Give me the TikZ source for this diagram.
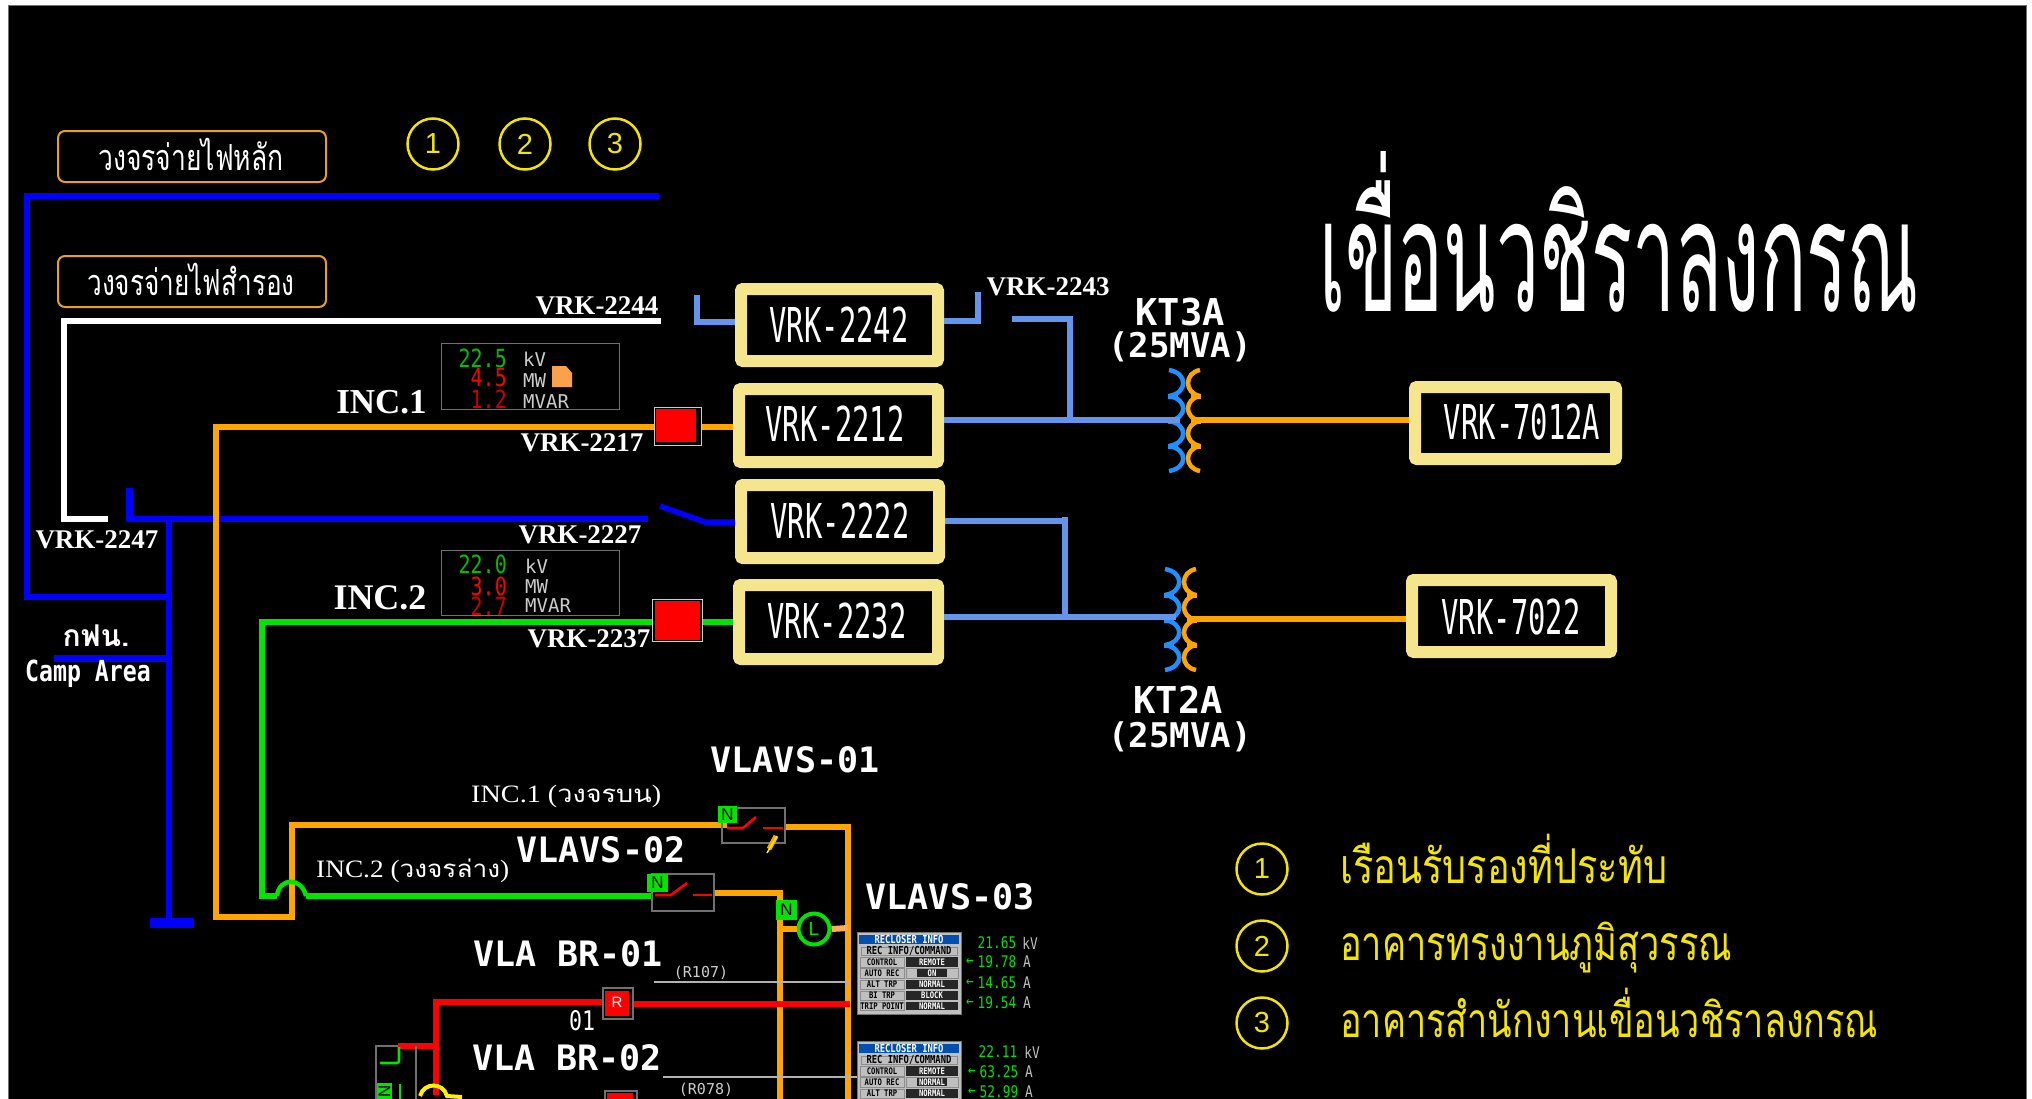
\documentclass[tikz,border=0pt]{standalone}
\usepackage{fontspec}
\usepackage{graphicx}
\usetikzlibrary{calc}
\newfontfamily\thaifont[Script=Thai]{Loma}
\newfontfamily\scadaN[FakeStretch=0.6]{DejaVu Sans Mono}
\newfontfamily\scadaM[FakeStretch=0.8]{DejaVu Sans Mono}
\newfontfamily\scadaW{DejaVu Sans Mono}
\newfontfamily\lsans{Liberation Sans}
\newfontfamily\lserif{Liberation Serif}
\newcommand\fsz[1]{\fontsize{#1}{#1}\selectfont}
\newcommand\fitw[2]{\resizebox{#1}{\height}{#2}}
\definecolor{orangeL}{HTML}{FFA500}
\definecolor{blueM}{HTML}{0000FF}
\definecolor{blueS}{HTML}{6495ED}
\definecolor{greenL}{HTML}{00E400}
\definecolor{coilB}{HTML}{1E90FF}
\definecolor{khaki}{HTML}{F5E58C}
\definecolor{frameG}{HTML}{707070}
\definecolor{lblO}{HTML}{E8A020}
\definecolor{yel}{HTML}{F2E600}
\tikzset{
 wire/.style={line width=#1,line cap=butt,line join=miter},
 wire/.default=6.5pt,
 mainblue/.style={wire,draw=blueM},
 whitebus/.style={wire,draw=white},
 orangebus/.style={wire,draw=orangeL},
 greenbus/.style={wire,draw=greenL},
 redbus/.style={wire,draw=red},
 skybus/.style={wire=6pt,draw=blueS},
 txt/.style={inner sep=0pt,text=white},
 vrkbox/.style={draw=khaki,line width=12pt,fill=black,inner sep=0pt,rounded corners=2pt},
 meterbox/.style={draw=frameG,line width=1.5pt,inner sep=0pt},
 legendbox/.style={draw=lblO,line width=2pt,rounded corners=7pt,inner sep=0pt,minimum width=268pt,minimum height=51pt},
 numcircle/.style={circle,draw=yel,line width=2.5pt,minimum size=51pt,inner sep=0pt,text=yel,font=\lsans\fsz{29}},
 swframe/.style={draw=frameG,line width=1.6pt,inner sep=0pt},
 nbox/.style={fill=greenL,text=black,inner sep=0pt,font=\lsans\fsz{17}},
 rbox/.style={draw=frameG,line width=1.6pt,fill=black,inner sep=0pt},
 contact/.style={draw=red,line width=2.6pt},
 xfmr/.pic={
  \foreach \ya/\yb in {-50/-24,-24/1,1/26,26/51}{
   \draw[draw=coilB,line width=4.5pt] (-17,\ya) .. controls (2,\ya+3) and (2,\yb-3) .. (-17,\yb);
   \draw[draw=orangeL,line width=4.5pt] (14,\ya) .. controls (-2,\ya+3) and (-2,\yb-3) .. (14,\yb);
  }
  \foreach \yc in {-24,1,26}{
   \draw[draw=coilB,line width=5pt] (-18,\yc) -- (-8,\yc);
   \draw[draw=orangeL,line width=5pt] (5,\yc) -- (15,\yc);
  }
  \coordinate (-in) at (-6,0);
  \coordinate (-out) at (6,0);
 },
}
\newcommand\infopanel[6]{%
 \begin{scope}[shift={(#1)}]
  \fill[black!25] (0,0) rectangle (104,82);
  \draw[black!55,line width=1pt] (0,0) rectangle (104,82);
  \fill[blue!55!cyan!70!black] (2,3) rectangle (102,12);
  \node[txt,font=\scadaM\bfseries\fsz{11}] at (52,7.5) {RECLOSER INFO};
  \draw[black!45,line width=.8pt] (4,15) rectangle (100,23);
  \node[txt,text=black,font=\scadaM\bfseries\fsz{11}] at (52,19) {REC INFO/COMMAND};
  \foreach \ya/\yb/\lb/\vl in {25/35/CONTROL/#2,48/57/ALT TRP/#4,59/68/BI TRP/#5,70/78/TRIP POINT/#6}{
   \draw[black!45,line width=.8pt] (3,\ya) rectangle (47,\yb);
   \node[txt,text=black,font=\scadaM\bfseries\fsz{9}] at (25,\ya/2+\yb/2) {\lb};
   \fill[black!85] (49,\ya) rectangle (101,\yb);
   \node[txt,font=\scadaM\bfseries\fsz{9}] at (75,\ya/2+\yb/2) {\vl};
  }
  \draw[black!45,line width=.8pt] (3,36) rectangle (47,46);
  \node[txt,text=black,font=\scadaM\bfseries\fsz{9}] at (25,41) {AUTO REC};
  \draw[black!45,line width=.8pt] (49,36) rectangle (101,46);
  \fill[black!85] (60,37) rectangle (90,45);
  \node[txt,font=\scadaM\bfseries\fsz{9}] at (75,41) {#3};
 \end{scope}%
}
\begin{document}
\begin{tikzpicture}[x=1pt,y=-1pt]
\useasboundingbox (0,0) rectangle (2032,1098);
\fill[white] (0,0) rectangle (2032,1098);
\clip (0,0) rectangle (2032,1098);
\draw[frameG,line width=1pt,fill=black] (8,5) rectangle (2026,1102);

% legend boxes
\node[legendbox] (lbA) at (192,156.5) {};
\node[legendbox] (lbB) at (192,281.5) {};
\node[txt,anchor=base] (lbAt) at (191,170) {\thaifont\fsz{36}\fitw{185pt}{วงจรจ่ายไฟหลัก}};
\node[txt,anchor=base] (lbBt) at (191,295) {\thaifont\fsz{36}\fitw{207pt}{วงจรจ่ายไฟสำรอง}};
\node[numcircle] (c1) at (433,144) {1};
\node[numcircle] (c2) at (525,144) {2};
\node[numcircle] (c3) at (615,144) {3};

% named ends
\coordinate (mainE) at (659,196);
\coordinate (mainNW) at (27,196);
\coordinate (mainSW) at (27,597);
\coordinate (busT) at (169,519);
\coordinate (busJ) at (169,597);
\coordinate (busB) at (169,923);
\coordinate (campW) at (54,658.5);
\coordinate (campJ) at (169,658.5);
\coordinate (resE) at (661,321);
\coordinate (resNW) at (64,321);
\coordinate (resSW) at (64,519);
\coordinate (resS) at (108,519);
\coordinate (tieN) at (129.5,488);
\coordinate (tieS) at (129.5,519);
\coordinate (tieE) at (648,519);
\coordinate (swA) at (660,506);
\coordinate (swB) at (705,522);

% main blue
\draw[mainblue] (mainE) -- (mainNW) -- (mainSW) -- (busJ);
\draw[mainblue] (busT) -- (busB);
\fill[blueM] (150,918) rectangle (194,928);
\draw[mainblue] (campW) -- (campJ);
\draw[mainblue] (tieN) -- (tieS) -- (tieE);
\draw[whitebus] (resE) -- (resNW) -- (resSW) -- (resS);

% boxes
\node[vrkbox,minimum width=197pt,minimum height=72pt] (b2242) at (839.5,325) {};
\node[vrkbox,minimum width=199pt,minimum height=73pt] (b2212) at (838.5,425.5) {};
\node[vrkbox,minimum width=198pt,minimum height=73pt] (b2222) at (840,521.5) {};
\node[vrkbox,minimum width=199pt,minimum height=74pt] (b2232) at (838.5,622) {};
\node[vrkbox,minimum width=201pt,minimum height=72pt] (b7012) at (1515.5,423) {};
\node[vrkbox,minimum width=199pt,minimum height=72pt] (b7022) at (1511.5,616) {};
\node[txt,font=\scadaN\fsz{48}] at (839,325) {VRK-2242};
\node[txt,font=\scadaN\fsz{48}] at (835,424) {VRK-2212};
\node[txt,font=\scadaN\fsz{48}] at (840,521) {VRK-2222};
\node[txt,font=\scadaN\fsz{48}] at (837,621) {VRK-2232};
\node[txt,font=\scadaN\fsz{48}] at (1522,422) {VRK-7012A};
\node[txt,font=\scadaN\fsz{48}] at (1511,617) {VRK-7022};

% breakers
\node[draw=white!80!black,line width=1.6pt,fill=black,minimum width=47pt,minimum height=38pt,inner sep=0pt] (sq1) at (678,426.5) {};
\node[draw=white!80!black,line width=1.6pt,fill=black,minimum width=50pt,minimum height=42pt,inner sep=0pt] (sq2) at (677.5,620.5) {};

% orange INC.1
\coordinate (o1) at (216,427);
\coordinate (o2) at (216,917);
\coordinate (o3) at (292,917);
\coordinate (o4) at (292,825);
\coordinate (o5) at (727,825);
\draw[orangebus] (sq1.west|-o1) -- (o1) -- (o2) -- (o3) -- (o4) -- (o5);
\draw[orangebus] (sq1.east|-o1) -- (b2212.west|-o1);
\fill[red] (656,409) rectangle (696,442);

% green INC.2
\coordinate (g1) at (262,622);
\coordinate (g2) at (262,896);
\coordinate (g3) at (277,896);
\coordinate (g4) at (306,896);
\coordinate (g5) at (653,896);
\draw[greenbus] (sq2.west|-g1) -- (g1) -- (g2) -- (g3);
\draw[greenL,line width=4.5pt] (g3) .. controls (279,877) and (302,877) .. (g4);
\draw[greenbus] (g4) -- (g5);
\draw[greenbus] (sq2.east|-g1) -- (b2232.west|-g1);
\fill[red] (655,601) rectangle (700,640);

% spare blue switch into 2222
\draw[wire=5.5pt,draw=blueM] (swA) -- (swB) -- (swB-|b2222.west);

% sky blue
\coordinate (sL) at (697,295);
\coordinate (sLc) at (697,322);
\draw[skybus] (sL) -- (sLc) -- (b2242.west|-sLc);
\coordinate (sRc) at (978,321);
\coordinate (sRt) at (978,292);
\draw[skybus] (b2242.east|-sRc) -- (sRc) -- (sRt);
\coordinate (sA) at (1012,319);
\coordinate (sB) at (1070,319);
\coordinate (sC) at (1070,420);
\coordinate (sD) at (1065,517);
\coordinate (sE) at (1065,617);
\coordinate (s2222) at (1065,521);
\pic (kta) at (1186,420) {xfmr};
\pic (ktb) at (1182,619) {xfmr};
\draw[skybus] (sA) -- (sB) -- (sC);
\draw[skybus] (b2212.east|-sC) -- (kta-in);
\draw[skybus] (b2222.east|-s2222) -- (s2222);
\draw[skybus] (sD) -- (sE);
\draw[skybus] (b2232.east|-sE) -- (ktb-in|-sE);
\draw[wire=6pt,draw=orangeL] (kta-out) -- (b7012.west|-kta-out);
\draw[wire=6pt,draw=orangeL] (ktb-out) -- (b7022.west|-ktb-out);

% meters
\node[meterbox,minimum width=178pt,minimum height=66pt] (m1) at (530.5,376.5) {};
\node[meterbox,minimum width=178pt,minimum height=65pt] (m2) at (530.5,583) {};
\begin{scope}[every node/.style={txt,anchor=east,font=\scadaM\fsz{25}}]
\node[text=green!75!black] at (507,358) {22.5};
\node[text=red] at (507,378) {4.5};
\node[text=red!80!black] at (507,399) {1.2};
\node[text=green!75!black] at (507,564) {22.0};
\node[text=red] at (507,586) {3.0};
\node[text=red!80!black] at (507,606) {2.7};
\end{scope}
\begin{scope}[every node/.style={txt,anchor=west,text=black!20,font=\scadaW\fsz{19}}]
\node at (523,359) {kV};
\node at (523,381) {MW};
\node at (523,402) {MVAR};
\node at (525,566) {kV};
\node at (525,587) {MW};
\node at (525,606) {MVAR};
\end{scope}
\fill[orange!70!white!90!brown] (552,366) -- (566,366) -- (572,373) -- (572,387) -- (552,387) -- cycle;

% serif labels
\begin{scope}[every node/.style={txt,font=\lserif\bfseries\fsz{27}}]
\node at (597,306) {VRK-2244};
\node at (582,443) {VRK-2217};
\node at (580,535) {VRK-2227};
\node at (97,540) {VRK-2247};
\node at (589,639) {VRK-2237};
\node at (1048,287) {VRK-2243};
\end{scope}
\node[txt,font=\lserif\bfseries\fsz{35}] at (381.5,402) {INC.1};
\node[txt,font=\lserif\bfseries\fsz{36}] at (380,598) {INC.2};
\node[txt,anchor=base,font=\thaifont\bfseries\fsz{30}] at (96,646) {กฟน.};
\node[txt,font=\scadaM\bfseries\fsz{29}] at (88,674) {Camp Area};

% transformer labels
\node[txt,font=\scadaW\bfseries\fsz{37}] at (1180,312) {KT3A};
\node[txt,font=\scadaW\bfseries\fsz{34}] at (1180,347) {(25MVA)};
\node[txt,font=\scadaW\bfseries\fsz{37}] at (1178,700) {KT2A};
\node[txt,font=\scadaW\bfseries\fsz{34}] at (1180,737) {(25MVA)};

% title
\node[txt,anchor=base] at (1619,311) {\resizebox{600pt}{160pt}{\thaifont\fsz{120}เขื่อนวชิราลงกรณ}};

% legend
\node[numcircle] (k1) at (1262,869) {1};
\node[numcircle] (k2) at (1262,946) {2};
\node[numcircle] (k3) at (1262,1023) {3};
\node[txt,text=yel,anchor=base west] at (1340,883) {\thaifont\fsz{48}\fitw{327pt}{เรือนรับรองที่ประทับ}};
\node[txt,text=yel,anchor=base west] at (1340,960) {\thaifont\fsz{48}\fitw{392pt}{อาคารทรงงานภูมิสุวรรณ}};
\node[txt,text=yel,anchor=base west] at (1340,1037) {\thaifont\fsz{48}\fitw{538pt}{อาคารสำนักงานเขื่อนวชิราลงกรณ}};

% low voltage labels
\node[txt,anchor=base west] at (471,802) {\fitw{190pt}{\lserif\fsz{25}INC.1 (\thaifont\fsz{24}วงจรบน\lserif\fsz{25})}};
\node[txt,anchor=base west] at (316,877) {\fitw{193pt}{\lserif\fsz{25}INC.2 (\thaifont\fsz{24}วงจรล่าง\lserif\fsz{25})}};
\begin{scope}[every node/.style={txt,font=\scadaW\bfseries\fsz{35}}]
\node at (795,760) {VLAVS-01};
\node at (601,850) {VLAVS-02};
\node at (950,897) {VLAVS-03};
\node at (568,954) {VLA BR-01};
\node at (567,1058) {VLA BR-02};
\end{scope}
\node[txt,font=\scadaM\fsz{27}] at (582,1021) {01};

% switch 01
\coordinate (q1) at (785,827);
\coordinate (q2) at (848,827);
\coordinate (q3) at (848,1100);
\draw[orangebus] (q1) -- (q2) -- (q3);
\node[swframe,minimum width=63pt,minimum height=35pt] (sw1) at (753.5,825.5) {};
\node[nbox,minimum width=19pt,minimum height=17pt] (n1) at (727.5,814.5) {N};
\draw[contact] (727,828) -- (743,828) -- (756,817);
\draw[contact] (763,828) -- (783,828);
\draw[orangeL,line width=5pt] (776,836) -- (769,849);
\draw[yellow,line width=1.5pt] (777,836) -- (767,853);

% switch 02
\coordinate (p1) at (714,893);
\coordinate (p2) at (780,893);
\coordinate (p3) at (780,1100);
\draw[wire=6pt,draw=orangeL] (p1) -- (p2) -- (p3);
\node[swframe,minimum width=62pt,minimum height=37pt] (sw2) at (683,892.5) {};
\node[nbox,minimum width=21pt,minimum height=18pt] (n2) at (657.5,883) {N};
\draw[contact] (655,895) -- (671,895) -- (687,883);
\draw[contact] (693,895) -- (712,895);

% VLAVS-03
\node[circle,draw=greenL,line width=4pt,minimum size=31pt,inner sep=0pt,text=greenL,font=\lsans\fsz{19}] (load) at (814,929) {L};
\coordinate (pL) at (780,929);
\draw[wire=6pt,draw=orangeL] (pL) -- (load.west);
\node[nbox,minimum width=21pt,minimum height=20pt] (n3) at (786.5,910) {N};
\coordinate (qL) at (848,928);
\draw[wire=6pt,draw=orange!65!white] (load.east) -- (qL);

% red feeder
\node[rbox,minimum width=30pt,minimum height=31pt] (r1) at (618,1003.5) {};
\fill[red] (605,991) rectangle (629,1016);
\node[txt,font=\lsans\fsz{15}] at (617,1002) {R};
\coordinate (rA) at (436,1002);
\coordinate (rB) at (436,1095);
\coordinate (rC) at (398,1046);
\coordinate (rD) at (436,1046);
\coordinate (rE) at (850,1004);
\draw[wire=6pt,draw=red] (r1.west|-rA) -- (rA) -- (rB);
\draw[wire=6pt,draw=red] (rC) -- (rD);
\draw[wire=6.5pt,draw=red] (r1.east|-rE) -- (rE);
\draw[frameG,line width=1.5pt] (398,1046) -- (376,1046) -- (376,1100);
\draw[frameG,line width=1.5pt] (416,1046) -- (416,1100);
\draw[greenL,line width=2.6pt,rounded corners=2pt] (399,1047) -- (399,1063) -- (380,1063);
\draw[greenL,line width=2pt] (400,1084) -- (400,1100);
\node[nbox,minimum width=17pt,minimum height=15pt,rotate=90,text=black] (n4) at (384.5,1091) {N};
\coordinate (yA) at (420,1096);
\coordinate (yB) at (447,1096);
\coordinate (yC) at (462,1097);
\draw[yellow,line width=4pt] (yA) .. controls (424,1082) and (443,1082) .. (yB) -- (yC);
\node[rbox,minimum width=32pt,minimum height=30pt] (r2) at (621,1106) {};
\fill[red] (607,1093) rectangle (633,1120);

% thin lines
\coordinate (tA) at (654,982);
\coordinate (tB) at (850,982);
\coordinate (tC) at (663,1077);
\coordinate (tD) at (858,1077);
\draw[black!30,line width=1.5pt] (tA) -- (tB);
\draw[black!30,line width=1.5pt] (tC) -- (tD);
\node[txt,text=black!20,font=\scadaW\fsz{15}] at (701,973) {(R107)};
\node[txt,text=black!20,font=\scadaW\fsz{15}] at (706,1090) {(R078)};

% panels
\infopanel{857,932}{REMOTE}{ON}{NORMAL}{BLOCK}{NORMAL}
\infopanel{857,1041}{REMOTE}{NORMAL}{NORMAL}{BLOCK}{NORMAL}
\begin{scope}[every node/.style={txt,text=greenL,font=\scadaM\fsz{16}}]
\node at (997,943) {21.65};
\node at (997,962) {19.78};
\node at (997,983) {14.65};
\node at (997,1003) {19.54};
\node at (998,1052) {22.11};
\node at (999,1072) {63.25};
\node at (999,1092) {52.99};
\node at (970,962) {←};
\node at (970,983) {←};
\node at (970,1003) {←};
\node at (972,1072) {←};
\node at (972,1092) {←};
\end{scope}
\begin{scope}[every node/.style={txt,text=black!25,font=\scadaM\fsz{16}}]
\node at (1030,943) {kV};
\node at (1027,962) {A};
\node at (1027,983) {A};
\node at (1027,1003) {A};
\node at (1032,1052) {kV};
\node at (1029,1072) {A};
\node at (1029,1092) {A};
\end{scope}
\end{tikzpicture}
\end{document}
